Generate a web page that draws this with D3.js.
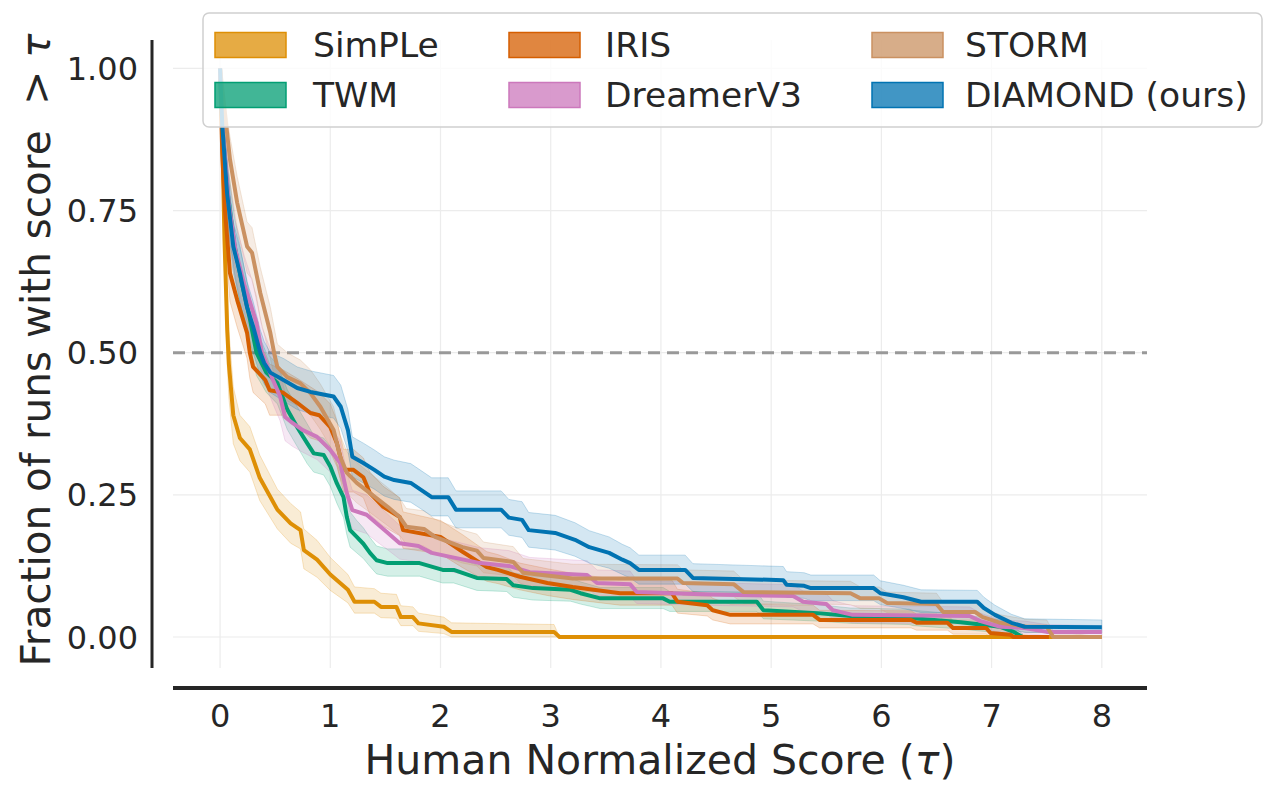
<!DOCTYPE html>
<html>
<head>
<meta charset="utf-8">
<script src="https://cdn.jsdelivr.net/npm/d3@7"></script>
<style>
  html,body{margin:0;padding:0;background:#fff;}
  svg text{font-family:"DejaVu Sans",sans-serif;fill:#262626;}
</style>
</head>
<body>
<div id="chart"></div>
<script>
// rows are [tau, mean, lowerCI, upperCI]
var simple = [
 [0,1.0,0.99,1.0],[0.02,0.88,0.84,0.92],[0.04,0.70,0.64,0.76],[0.065,0.54,0.48,0.60],
 [0.08,0.48,0.42,0.54],[0.12,0.39,0.34,0.44],[0.18,0.35,0.31,0.39],[0.27,0.33,0.29,0.37],
 [0.36,0.28,0.24,0.32],[0.52,0.224,0.19,0.26],[0.64,0.20,0.165,0.235],[0.73,0.188,0.155,0.22],
 [0.76,0.153,0.12,0.19],[0.88,0.136,0.105,0.17],[1.0,0.11,0.082,0.14],[1.16,0.083,0.06,0.11],
 [1.22,0.062,0.042,0.088],[1.40,0.062,0.042,0.085],[1.46,0.053,0.034,0.077],[1.60,0.053,0.033,0.075],
 [1.64,0.035,0.02,0.055],[1.75,0.035,0.02,0.053],[1.80,0.024,0.01,0.042],[2.03,0.018,0.006,0.035],
 [2.10,0.009,0,0.025],[3.03,0.009,0,0.022],[3.08,0,0,0],[8.0,0,0,0]
];
var twm = [
 [0,1.0,0.99,1.0],[0.02,0.9,0.86,0.94],[0.07,0.78,0.73,0.83],[0.13,0.69,0.64,0.74],
 [0.2,0.62,0.57,0.67],[0.27,0.56,0.51,0.6],[0.33,0.5,0.46,0.54],[0.42,0.465,0.43,0.5],
 [0.52,0.447,0.41,0.48],[0.61,0.4,0.365,0.435],[0.70,0.369,0.335,0.405],[0.79,0.341,0.305,0.375],
 [0.85,0.323,0.29,0.355],[0.94,0.32,0.285,0.35],[1.0,0.30,0.265,0.335],[1.06,0.27,0.235,0.305],
 [1.12,0.246,0.21,0.28],[1.15,0.211,0.18,0.245],[1.18,0.188,0.158,0.22],[1.24,0.176,0.148,0.205],
 [1.30,0.164,0.138,0.192],[1.36,0.148,0.124,0.175],[1.42,0.135,0.111,0.16],[1.52,0.13,0.107,0.155],
 [1.81,0.13,0.107,0.155],[2.02,0.118,0.095,0.142],[2.12,0.118,0.095,0.141],[2.33,0.104,0.082,0.127],
 [2.6,0.102,0.08,0.125],[2.66,0.091,0.07,0.113],[2.84,0.086,0.065,0.107],[3.18,0.083,0.063,0.104],
 [3.27,0.077,0.058,0.097],[3.45,0.068,0.05,0.087],[4.02,0.068,0.05,0.087],[4.08,0.062,0.045,0.08],
 [4.87,0.062,0.045,0.079],[4.93,0.047,0.032,0.063],[5.42,0.042,0.028,0.057],[5.72,0.037,0.024,0.051],
 [6.25,0.035,0.022,0.049],[6.29,0.033,0.02,0.047],[6.72,0.026,0.014,0.04],[7.08,0.018,0.007,0.03],
 [7.2,0.009,0,0.018],[7.28,0,0,0.006]
];
var iris = [
 [0,1.0,0.99,1.0],[0.02,0.85,0.8,0.89],[0.045,0.75,0.7,0.8],[0.09,0.64,0.59,0.69],
 [0.155,0.593,0.545,0.64],[0.245,0.535,0.49,0.58],[0.27,0.5,0.455,0.55],[0.30,0.475,0.43,0.52],
 [0.41,0.452,0.41,0.5],[0.45,0.434,0.39,0.48],[0.57,0.43,0.39,0.47],[0.70,0.412,0.37,0.455],
 [0.82,0.394,0.35,0.44],[0.90,0.39,0.345,0.43],[1.0,0.369,0.325,0.41],[1.06,0.341,0.3,0.38],
 [1.12,0.294,0.255,0.33],[1.21,0.294,0.255,0.33],[1.30,0.281,0.245,0.315],[1.36,0.253,0.215,0.29],
 [1.48,0.229,0.195,0.265],[1.63,0.211,0.178,0.245],[1.66,0.188,0.156,0.22],[2.0,0.176,0.146,0.205],
 [2.2,0.15,0.122,0.18],[2.42,0.123,0.098,0.15],[2.52,0.118,0.094,0.145],[2.72,0.106,0.083,0.13],
 [2.97,0.095,0.073,0.12],[3.2,0.088,0.066,0.112],[3.63,0.077,0.056,0.1],[4.1,0.077,0.056,0.1],
 [4.15,0.062,0.042,0.084],[4.42,0.056,0.037,0.077],[4.47,0.047,0.03,0.068],[4.63,0.039,0.023,0.058],
 [5.38,0.039,0.023,0.056],[5.44,0.030,0.016,0.047],[6.27,0.030,0.016,0.046],[6.32,0.025,0.012,0.04],
 [6.6,0.025,0.012,0.039],[6.65,0.016,0.005,0.029],[6.95,0.016,0.005,0.028],[6.99,0.007,0,0.018],
 [7.17,0.004,0,0.012],[7.2,0,0,0.006],[7.52,0,0,0]
];
var dreamer = [
 [0,1.0,0.99,1.0],[0.03,0.88,0.84,0.92],[0.08,0.76,0.71,0.81],[0.14,0.68,0.63,0.73],
 [0.22,0.62,0.57,0.67],[0.27,0.59,0.54,0.64],[0.33,0.553,0.51,0.6],[0.38,0.5,0.46,0.545],
 [0.48,0.452,0.41,0.495],[0.545,0.423,0.38,0.465],[0.59,0.387,0.345,0.43],[0.66,0.376,0.335,0.42],
 [0.75,0.364,0.325,0.405],[0.88,0.352,0.312,0.392],[1.0,0.329,0.29,0.37],[1.09,0.306,0.268,0.345],
 [1.15,0.253,0.218,0.29],[1.20,0.223,0.19,0.258],[1.33,0.215,0.182,0.25],[1.42,0.2,0.168,0.234],
 [1.51,0.185,0.155,0.218],[1.63,0.165,0.137,0.196],[1.8,0.16,0.132,0.19],[1.92,0.148,0.121,0.177],
 [2.09,0.141,0.115,0.17],[2.36,0.13,0.104,0.157],[2.62,0.125,0.1,0.152],[2.81,0.114,0.09,0.14],
 [3.33,0.109,0.085,0.134],[3.42,0.095,0.073,0.118],[3.72,0.093,0.071,0.116],[3.78,0.079,0.059,0.1],
 [4.36,0.075,0.056,0.096],[5.2,0.072,0.053,0.092],[5.29,0.062,0.045,0.081],[5.5,0.058,0.041,0.076],
 [5.56,0.047,0.032,0.064],[5.74,0.039,0.025,0.055],[6.8,0.037,0.023,0.053],[6.9,0.028,0.016,0.042],
 [7.08,0.018,0.008,0.03],[7.3,0.016,0.006,0.028],[7.5,0.009,0.002,0.022],[8.0,0.009,0.002,0.02]
];
var storm = [
 [0,1.0,0.99,1.0],[0.09,0.84,0.8,0.88],[0.155,0.764,0.72,0.81],[0.245,0.687,0.64,0.73],
 [0.29,0.676,0.63,0.72],[0.365,0.605,0.56,0.65],[0.456,0.535,0.49,0.58],[0.49,0.5,0.46,0.545],
 [0.52,0.475,0.435,0.515],[0.61,0.457,0.415,0.5],[0.73,0.446,0.405,0.487],[0.82,0.429,0.39,0.47],
 [0.91,0.405,0.365,0.445],[1.03,0.364,0.325,0.405],[1.09,0.317,0.28,0.355],[1.15,0.289,0.253,0.326],
 [1.24,0.271,0.236,0.307],[1.36,0.253,0.219,0.288],[1.52,0.229,0.196,0.263],[1.63,0.211,0.179,0.244],
 [1.69,0.194,0.163,0.226],[1.85,0.19,0.16,0.222],[1.95,0.176,0.147,0.207],[2.2,0.158,0.13,0.188],
 [2.33,0.152,0.125,0.181],[2.39,0.139,0.113,0.167],[2.66,0.132,0.107,0.159],[2.75,0.113,0.09,0.138],
 [3.2,0.103,0.08,0.128],[4.15,0.103,0.08,0.127],[4.2,0.095,0.073,0.118],[4.66,0.093,0.071,0.116],
 [4.75,0.079,0.059,0.1],[5.72,0.077,0.057,0.098],[5.81,0.068,0.05,0.088],[5.98,0.068,0.05,0.088],
 [6.05,0.06,0.043,0.079],[6.5,0.058,0.041,0.077],[6.56,0.044,0.03,0.061],[6.85,0.044,0.03,0.06],
 [6.92,0.035,0.022,0.05],[7.08,0.025,0.014,0.039],[7.32,0.018,0.008,0.031],[7.5,0.018,0.008,0.03],
 [7.56,0,0,0.01],[8.0,0,0,0]
];
var diamond = [
 [0,1.0,0.99,1.0],[0.02,0.9,0.86,0.94],[0.064,0.78,0.73,0.83],[0.12,0.687,0.64,0.73],
 [0.18,0.64,0.59,0.685],[0.245,0.58,0.535,0.625],[0.30,0.546,0.5,0.59],[0.365,0.5,0.46,0.54],
 [0.40,0.482,0.445,0.52],[0.456,0.465,0.43,0.5],[0.575,0.452,0.415,0.49],[0.70,0.438,0.4,0.475],
 [0.82,0.431,0.393,0.468],[1.03,0.423,0.385,0.46],[1.095,0.405,0.367,0.443],[1.16,0.364,0.327,0.4],
 [1.2,0.317,0.282,0.352],[1.30,0.306,0.271,0.341],[1.40,0.294,0.26,0.329],[1.49,0.282,0.248,0.317],
 [1.58,0.276,0.242,0.311],[1.73,0.271,0.237,0.305],[1.92,0.246,0.213,0.28],[2.07,0.246,0.213,0.28],
 [2.14,0.224,0.192,0.257],[2.55,0.224,0.192,0.257],[2.62,0.21,0.179,0.242],[2.74,0.206,0.175,0.238],
 [2.80,0.188,0.158,0.219],[3.04,0.183,0.153,0.214],[3.22,0.171,0.142,0.201],[3.35,0.158,0.13,0.187],
 [3.53,0.148,0.121,0.176],[3.65,0.136,0.11,0.163],[3.72,0.13,0.104,0.157],[3.80,0.118,0.093,0.144],
 [4.22,0.118,0.093,0.144],[4.29,0.104,0.08,0.129],[5.11,0.1,0.077,0.124],[5.14,0.092,0.07,0.115],
 [5.3,0.09,0.068,0.113],[5.36,0.086,0.064,0.109],[5.93,0.086,0.064,0.109],[5.99,0.077,0.057,0.099],
 [6.2,0.07,0.05,0.091],[6.36,0.062,0.043,0.083],[6.87,0.062,0.043,0.082],[6.93,0.051,0.034,0.07],
 [7.03,0.039,0.024,0.056],[7.18,0.025,0.013,0.04],[7.30,0.018,0.008,0.032],[8.0,0.017,0.007,0.03]
];

var names  = ["SimPLe","TWM","IRIS","DreamerV3","STORM","DIAMOND (ours)"];
var colors = ["#DE8F05","#029E73","#D55E00","#CC78BC","#CA9161","#0173B2"];
var allData = [simple, twm, iris, dreamer, storm, diamond];
var xTicks = [0,1,2,3,4,5,6,7,8];
var yTicks = [0,0.25,0.5,0.75,1.0];

var W=1280, H=797;
var svg = d3.select("#chart").append("svg").attr("width",W).attr("height",H);

// plot area (spines are offset outside it, seaborn despine style)
var x = d3.scaleLinear().domain([-0.427, 8.41]).range([173, 1147]);
var y = d3.scaleLinear().domain([-0.0545, 1.05]).range([668, 40]);

// grid
svg.append("g").selectAll("line").data(xTicks).enter().append("line")
  .attr("x1",d=>x(d)).attr("x2",d=>x(d)).attr("y1",40).attr("y2",668)
  .attr("stroke","#ececec").attr("stroke-width",1.2);
svg.append("g").selectAll("line").data(yTicks).enter().append("line")
  .attr("y1",d=>y(d)).attr("y2",d=>y(d)).attr("x1",173).attr("x2",1147)
  .attr("stroke","#ececec").attr("stroke-width",1.2);

// dashed 0.5 line
svg.append("line").attr("x1",173).attr("x2",1147).attr("y1",y(0.5)).attr("y2",y(0.5))
  .attr("stroke","#999").attr("stroke-width",3).attr("stroke-dasharray","12,7");

var area = d3.area().x(d=>x(d[0])).y0(d=>y(d[2])).y1(d=>y(d[3]));
var line = d3.line().x(d=>x(d[0])).y(d=>y(d[1]));

allData.forEach(function(ser,i){
  svg.append("path").attr("d",area(ser))
    .attr("fill",colors[i]).attr("fill-opacity",0.17)
    .attr("stroke",colors[i]).attr("stroke-opacity",0.22).attr("stroke-width",1);
});
allData.forEach(function(ser,i){
  svg.append("path").attr("d",line(ser))
    .attr("fill","none").attr("stroke",colors[i]).attr("stroke-width",4)
    .attr("stroke-linejoin","round");
});

// spines
svg.append("line").attr("x1",152).attr("x2",152).attr("y1",40).attr("y2",668)
  .attr("stroke","#262626").attr("stroke-width",3);
svg.append("line").attr("x1",173).attr("x2",1147).attr("y1",688).attr("y2",688)
  .attr("stroke","#262626").attr("stroke-width",4);

// tick labels
svg.append("g").selectAll("text").data(yTicks).enter().append("text")
  .attr("x",138).attr("y",d=>y(d)).attr("dy","0.36em")
  .attr("text-anchor","end").style("font-size","32px")
  .text(d=>d3.format(".2f")(d));
svg.append("g").selectAll("text").data(xTicks).enter().append("text")
  .attr("x",d=>x(d)).attr("y",727)
  .attr("text-anchor","middle").style("font-size","32px")
  .text(d=>d);

// axis labels
svg.append("text").attr("x",660).attr("y",774).attr("text-anchor","middle")
  .style("font-size","41px")
  .html('Human Normalized Score (<tspan font-style="italic">τ</tspan>)');
svg.append("text").attr("transform","translate(50,350) rotate(-90)")
  .attr("text-anchor","middle").style("font-size","40.5px").style("white-space","pre")
  .html('Fraction of runs with score  &gt; <tspan font-style="italic">τ</tspan>');

// legend
var leg = svg.append("g");
leg.append("rect").attr("x",203).attr("y",13).attr("width",1059).attr("height",114).attr("rx",6)
  .attr("fill","#fff").attr("fill-opacity",0.8).attr("stroke","#d0d0d0").attr("stroke-width",1.5);
var patchX=[215,509,872], textX=[313,605,965], rowY=[45,95];
names.forEach(function(n,i){
  var c=Math.floor(i/2), r=i%2;
  leg.append("rect").attr("x",patchX[c]).attr("y",rowY[r]-12.5).attr("width",71).attr("height",25)
    .attr("fill",colors[i]).attr("fill-opacity",0.75).attr("stroke",colors[i]).attr("stroke-width",1.5);
  leg.append("text").attr("x",textX[c]).attr("y",rowY[r]).attr("dy","0.36em")
    .style("font-size","34.5px").text(n);
});
</script>
</body>
</html>
